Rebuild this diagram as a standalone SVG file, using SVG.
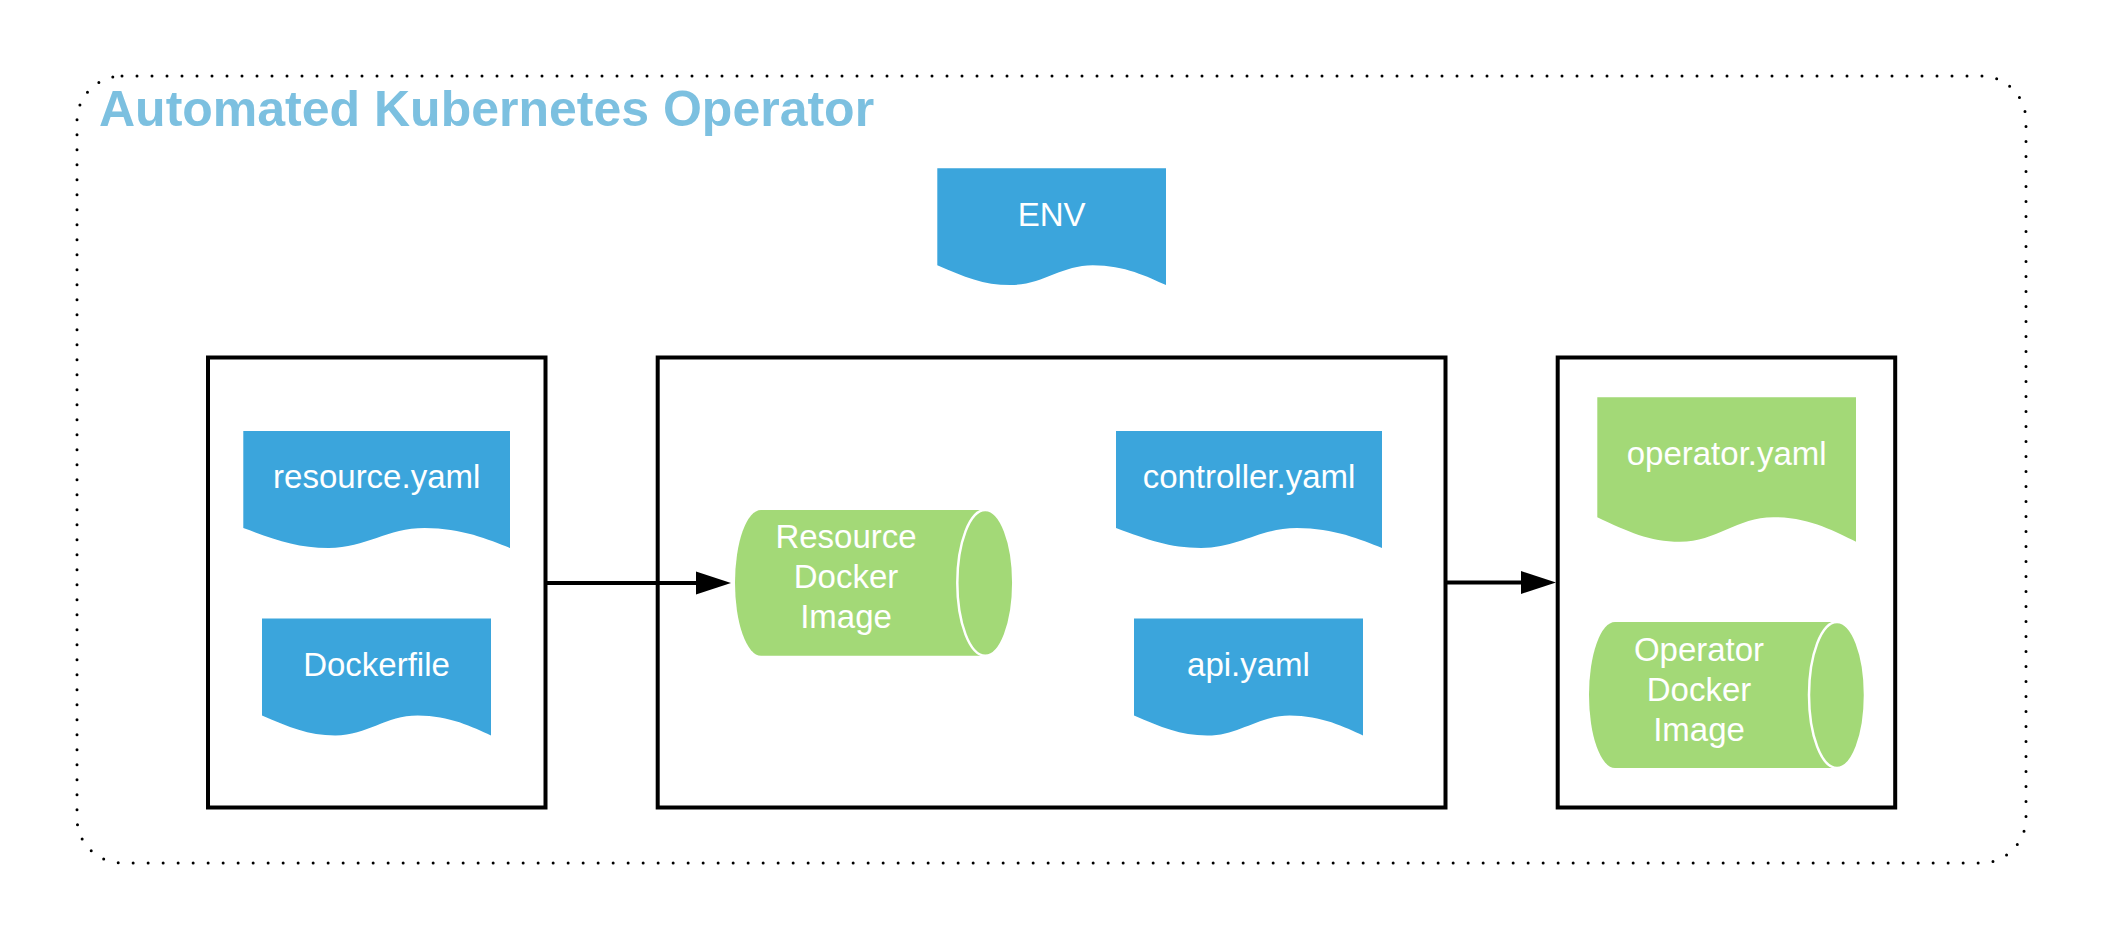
<svg xmlns="http://www.w3.org/2000/svg" xmlns:xlink="http://www.w3.org/1999/xlink" width="2104" height="941" viewBox="0 0 2104 941">
  <style>
    .lbl { font-family: "Liberation Sans", Arial, sans-serif; font-size: 33px; fill: #ffffff; text-anchor: middle; }
    .title { font-family: "Liberation Sans", Arial, sans-serif; font-size: 50px; font-weight: bold; fill: #7cc0e0; }
    .box { fill: #ffffff; stroke: #000000; stroke-width: 4; }
    .blue { fill: #3ba5dc; }
    .green { fill: #a3d977; }
    .cap { fill: #a3d977; stroke: #ffffff; stroke-width: 2.5; }
    .conn { stroke: #000000; stroke-width: 4; fill: none; }
  </style>
  <defs>
    <path id="doc" d="M0,0 H100 V100 C92,93 82,83 68,83 C54,83 46,100 32,100 C20,100 12,93 0,83 Z"/>
    <marker id="arrow" markerUnits="userSpaceOnUse" markerWidth="40" markerHeight="26" refX="4" refY="11.5" orient="auto" overflow="visible">
      <path d="M0,0 L35,11.5 L0,23 Z" fill="#000000"/>
    </marker>
  </defs>
  <rect width="2104" height="941" fill="#ffffff"/>

  <g id="container">
    <rect x="77" y="76" width="1949" height="787" rx="45" ry="45" fill="none" stroke="#000000" stroke-width="3" stroke-dasharray="0 15" stroke-linecap="round"/>
    <text class="title" x="99" y="126">Automated Kubernetes Operator</text>
  </g>

  <g id="box-left"><rect class="box" x="208" y="357.5" width="337.5" height="450"/></g>
  <g id="box-middle"><rect class="box" x="657.7" y="357.5" width="787.8" height="450"/></g>
  <g id="box-right"><rect class="box" x="1557.7" y="357.5" width="337.5" height="450"/></g>

  <g id="connectors">
    <line class="conn" x1="545.5" y1="583" x2="700" y2="583" marker-end="url(#arrow)"/>
    <line class="conn" x1="1445.5" y1="582.5" x2="1525" y2="582.5" marker-end="url(#arrow)"/>
  </g>

  <g id="env">
    <use href="#doc" xlink:href="#doc" class="blue" transform="translate(937.3,168.3) scale(2.287,1.167)"/>
    <text class="lbl" x="1051.7" y="225.7">ENV</text>
  </g>

  <g id="resource-yaml">
    <use href="#doc" xlink:href="#doc" class="blue" transform="translate(243.3,431) scale(2.667,1.17)"/>
    <text class="lbl" x="376.7" y="488.3">resource.yaml</text>
  </g>

  <g id="dockerfile">
    <use href="#doc" xlink:href="#doc" class="blue" transform="translate(262,618.5) scale(2.29,1.17)"/>
    <text class="lbl" x="376.5" y="676">Dockerfile</text>
  </g>

  <g id="controller-yaml">
    <use href="#doc" xlink:href="#doc" class="blue" transform="translate(1116,431) scale(2.66,1.17)"/>
    <text class="lbl" x="1249" y="488.3">controller.yaml</text>
  </g>

  <g id="api-yaml">
    <use href="#doc" xlink:href="#doc" class="blue" transform="translate(1134,618.5) scale(2.29,1.17)"/>
    <text class="lbl" x="1248.5" y="676">api.yaml</text>
  </g>

  <g id="operator-yaml">
    <use href="#doc" xlink:href="#doc" class="green" transform="translate(1597.3,397.3) scale(2.587,1.444)"/>
    <text class="lbl" x="1726.7" y="465">operator.yaml</text>
  </g>

  <g id="resource-docker-image">
    <path class="green" d="M761,510 H985.3 A28,72.85 0 0 1 985.3,655.7 H761 A26,72.85 0 0 1 761,510 Z"/>
    <ellipse class="cap" cx="985.3" cy="582.85" rx="28" ry="72.85"/>
    <text class="lbl" x="846" y="548.3">Resource</text>
    <text class="lbl" x="846" y="588.3">Docker</text>
    <text class="lbl" x="846" y="628.3">Image</text>
  </g>

  <g id="operator-docker-image">
    <path class="green" d="M1615,622 H1837 A28,73 0 0 1 1837,768 H1615 A26,73 0 0 1 1615,622 Z"/>
    <ellipse class="cap" cx="1837" cy="695" rx="28" ry="73"/>
    <text class="lbl" x="1699" y="661">Operator</text>
    <text class="lbl" x="1699" y="701">Docker</text>
    <text class="lbl" x="1699" y="741">Image</text>
  </g>
</svg>
